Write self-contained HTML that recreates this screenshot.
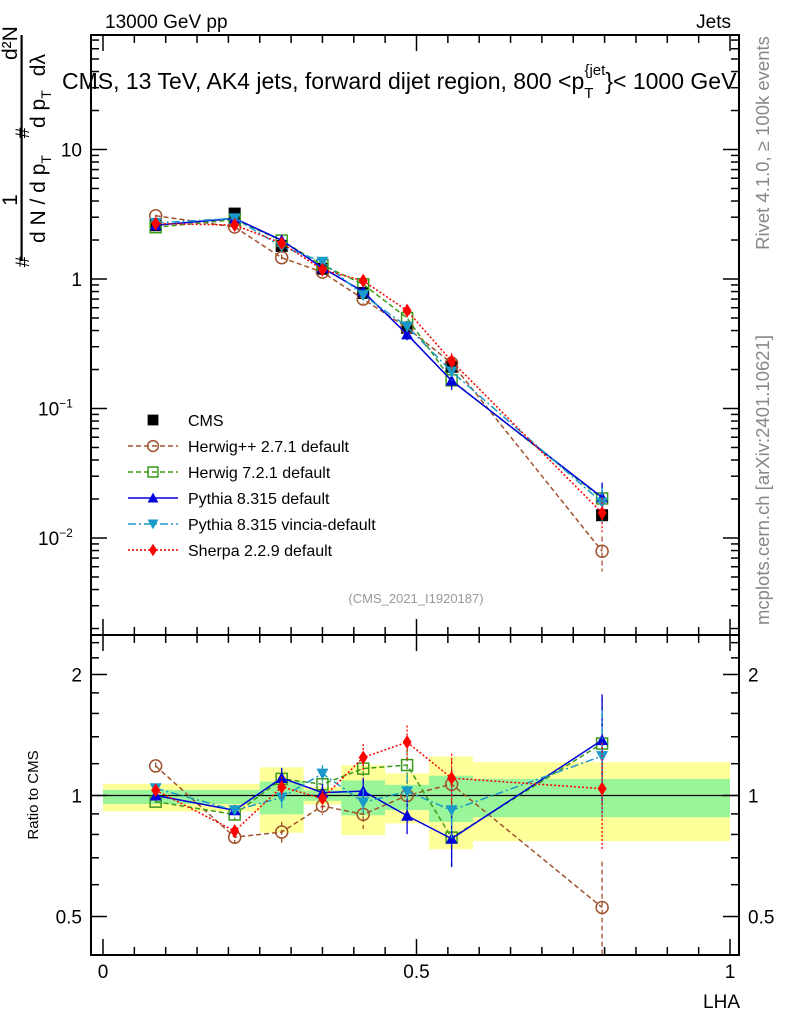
<!DOCTYPE html>
<html><head><meta charset="utf-8"><style>
html,body{margin:0;padding:0;background:#fff}
svg{display:block;font-family:"Liberation Sans",sans-serif}
</style></head><body>
<svg id="c" width="786" height="1024" viewBox="0 0 786 1024" xmlns="http://www.w3.org/2000/svg">
<g id="bands"></g>
<g id="marks"></g>
<g id="axes"></g>
<text x="105" y="28" font-size="19">13000 GeV pp</text>
<text x="731" y="28" font-size="19" text-anchor="end">Jets</text>
<text x="62" y="89" font-size="23">CMS, 13 TeV, AK4 jets, forward dijet region, 800 &lt;p<tspan font-size="15" dy="9">T</tspan><tspan font-size="15" dx="-9" dy="-23">{jet</tspan><tspan dy="14">}&lt; 1000 GeV</tspan></text>
<rect x="20.5" y="35" width="2.2" height="226" fill="#000"/>
<g transform="rotate(-90)" font-size="21">
<text x="-200" y="17" text-anchor="middle">1</text>
<text x="-243" y="45">d N / d p<tspan font-size="14" dy="6">T</tspan></text>
<text x="-262" y="29" text-anchor="middle" font-size="19">#</text>
<text x="-133" y="29" text-anchor="middle" font-size="19">#</text>
<text x="-60" y="17">d²N</text>
<text x="-128" y="45">d p<tspan font-size="14" dy="6">T</tspan><tspan dx="14" dy="-6">dλ</tspan></text>
</g>
<text transform="translate(769,143) rotate(-90)" font-size="18.5" fill="#888" text-anchor="middle">Rivet 4.1.0, ≥ 100k events</text>
<text transform="translate(769,480) rotate(-90)" font-size="18.5" fill="#888" text-anchor="middle">mcplots.cern.ch [arXiv:2401.10621]</text>
<text x="416" y="603" font-size="13" fill="#999" text-anchor="middle">(CMS_2021_I1920187)</text>
<text transform="translate(38,795) rotate(-90)" font-size="15" text-anchor="middle">Ratio to CMS</text>
<text x="740" y="1008" font-size="19" text-anchor="end">LHA</text>
<g id="legend"></g>
</svg>
<script>
const xs=[0.084,0.21,0.285,0.35,0.415,0.485,0.556,0.796];
const cms=[2.6,3.2,1.8,1.2,0.78,0.42,0.21,0.015];
const cmsErr=[0.05,0.06,0.04,0.03,0.03,0.02,0.012,0.0015];
const herwigpp=[3.08,2.52,1.46,1.13,0.70,0.42,0.224,0.0079];
const herwig7=[2.51,2.87,1.98,1.28,0.91,0.50,0.165,0.0202];
const pythia=[2.6,2.94,1.99,1.22,0.80,0.374,0.164,0.0206];
const vincia=[2.71,2.94,1.78,1.36,0.75,0.43,0.193,0.0188];
const sherpa=[2.68,2.61,1.89,1.18,0.97,0.57,0.232,0.0156];
const relErr=[0.02,0.03,0.06,0.05,0.08,0.1,0.15,0.3];
const binEdges=[0,0.25,0.32,0.38,0.45,0.52,0.59,1.0];
const yellowHi=[1.069,1.175,1.05,1.19,1.135,1.25,1.21];
const yellowLo=[0.913,0.808,0.95,0.797,0.852,0.735,0.77];
const greenHi=[1.033,1.083,1.03,1.09,1.063,1.12,1.10];
const greenLo=[0.953,0.898,0.97,0.893,0.92,0.86,0.883];
const mainTicks=[10,1,0.1,0.01];
const ratioTicks=[2,1,0.5];
const xTicks=[0,0.5,1];

const NS="http://www.w3.org/2000/svg";
const X=v=>103+v*627;
const Y=v=>279-Math.log10(v)*129.5;
const R=v=>795.5-Math.log10(v)*402;
function mk(tag,attrs,parent){const e=document.createElementNS(NS,tag);for(const k in attrs)e.setAttribute(k,attrs[k]);parent.appendChild(e);return e;}
const bands=document.getElementById('bands'),marks=document.getElementById('marks'),axes=document.getElementById('axes'),leg=document.getElementById('legend');

for(let i=0;i<yellowHi.length;i++){
  const x0=X(binEdges[i]),x1=X(binEdges[i+1]);
  let r=mk('rect',{x:x0,y:R(yellowHi[i]),width:x1-x0,height:R(yellowLo[i])-R(yellowHi[i]),fill:'#ffff99'},bands);
  
  
  r=mk('rect',{x:x0,y:R(greenHi[i]),width:x1-x0,height:R(greenLo[i])-R(greenHi[i]),fill:'#99f599'},bands);
  
  
}
let l1=mk('line',{x1:91,x2:739,y1:R(1),y2:R(1),stroke:'#000','stroke-width':1.3},bands);



function marker(type,x,y,col,g,s){
  s=s||1;
  if(type==='sq')return mk('rect',{x:x-6*s,y:y-6*s,width:12*s,height:12*s,fill:'#000'},g);
  if(type==='circ')return mk('circle',{cx:x,cy:y,r:6*s,fill:'none',stroke:col,'stroke-width':1.5},g);
  if(type==='osq')return mk('rect',{x:x-5.5*s,y:y-5.5*s,width:11*s,height:11*s,fill:'none',stroke:col,'stroke-width':1.5},g);
  if(type==='up')return mk('polygon',{points:`${x},${y-6*s} ${x-6*s},${y+5*s} ${x+6*s},${y+5*s}`,fill:col},g);
  if(type==='dn')return mk('polygon',{points:`${x},${y+6*s} ${x-6*s},${y-5*s} ${x+6*s},${y-5*s}`,fill:col},g);
  if(type==='dia')return mk('polygon',{points:`${x},${y-7*s} ${x-4.5*s},${y} ${x},${y+7*s} ${x+4.5*s},${y}`,fill:col},g);
}
const series=[
 {name:'herwigpp',label:'Herwig++ 2.7.1 default',vals:herwigpp,col:'#a0522d',dash:'5,3',m:'circ'},
 {name:'herwig7',label:'Herwig 7.2.1 default',vals:herwig7,col:'#3a9a1a',dash:'5,3',m:'osq'},
 {name:'pythia',label:'Pythia 8.315 default',vals:pythia,col:'#0000dd',dash:'',m:'up'},
 {name:'vincia',label:'Pythia 8.315 vincia-default',vals:vincia,col:'#1a9ac8',dash:'8,3,2,3',m:'dn'},
 {name:'sherpa',label:'Sherpa 2.2.9 default',vals:sherpa,col:'#ff0000',dash:'2,2',m:'dia'}
];
{
 const g=mk('g',{},marks);
 
 
 cms.forEach((v,i)=>{
   mk('line',{x1:X(xs[i]),x2:X(xs[i]),y1:Y(v+cmsErr[i]),y2:Y(v-cmsErr[i]),stroke:'#000','stroke-width':1.5},g);
   const p=marker('sq',X(xs[i]),Y(v),'#000',g);
   
   
 });
}
series.forEach(s=>{
  const g=mk('g',{},marks);
  
  
  const ptsM=s.vals.map((v,i)=>X(xs[i])+','+Y(v)).join(' ');
  const ptsR=s.vals.map((v,i)=>X(xs[i])+','+R(v/cms[i])).join(' ');
  mk('polyline',{points:ptsM,fill:'none',stroke:s.col,'stroke-width':1.5,'stroke-dasharray':s.dash},g);
  mk('polyline',{points:ptsR,fill:'none',stroke:s.col,'stroke-width':1.5,'stroke-dasharray':s.dash},g);
  s.vals.forEach((v,i)=>{
    const e=relErr[i];
    mk('line',{x1:X(xs[i]),x2:X(xs[i]),y1:Y(v*(1+e)),y2:Y(v*Math.max(1-e,0.4)),stroke:s.col,'stroke-width':1.3,'stroke-dasharray':s.dash},g);
    const r=v/cms[i];
    mk('line',{x1:X(xs[i]),x2:X(xs[i]),y1:Math.max(R(r*(1+e)),636),y2:Math.min(R(r*Math.max(1-e,0.3)),955),stroke:s.col,'stroke-width':1.3,'stroke-dasharray':s.dash},g);
    let p=marker(s.m,X(xs[i]),Y(v),s.col,g);
    
    
    p=marker(s.m,X(xs[i]),R(r),s.col,g);
    
    
  });
});
{
 const y0=420,dy=26;
 let m=marker('sq',153,y0,'#000',leg,0.9);
 
 
 let t=mk('text',{x:188,y:y0+6,'font-size':16},leg);t.textContent='CMS';
 
 
 series.forEach((s,k)=>{
   const y=y0+dy*(k+1);
   mk('line',{x1:128,x2:178,y1:y,y2:y,stroke:s.col,'stroke-width':1.5,'stroke-dasharray':s.dash},leg);
   marker(s.m,153,y,s.col,leg,0.9);
   const tt=mk('text',{x:188,y:y+6,'font-size':16},leg);tt.textContent=s.label;
   
   
 });
}
mk('rect',{x:91,y:35,width:648,height:600,fill:'none',stroke:'#000','stroke-width':2},axes);
mk('rect',{x:91,y:635,width:648,height:320,fill:'none',stroke:'#000','stroke-width':2},axes);
for(let d=-3;d<=1;d++){for(let k=1;k<10;k++){const v=k*Math.pow(10,d);const y=Y(v);if(y<36||y>634)continue;const L=k===1?16:8;
 mk('line',{x1:91,x2:91+L,y1:y,y2:y,stroke:'#000','stroke-width':1.5},axes);
 mk('line',{x1:739,x2:739-L,y1:y,y2:y,stroke:'#000','stroke-width':1.5},axes);}}
const mainLab={10:'10',1:'1',0.1:'10<tspan font-size="12" dy="-8">−1</tspan>',0.01:'10<tspan font-size="12" dy="-8">−2</tspan>'};
mainTicks.forEach(v=>{const t=mk('text',{x:v>=1?82:68,y:Y(v)+7,'font-size':19,'text-anchor':v>=1?'end':'start'},axes);
 if(v<1)t.setAttribute('x',38);
 t.innerHTML=mainLab[v];
 
 });
for(let k=4;k<=25;k++){const v=k/10;if(v>1&&k%2)continue;const y=R(v);if(y<637||y>953)continue;const big=ratioTicks.includes(v);const L=big?16:8;
 mk('line',{x1:91,x2:91+L,y1:y,y2:y,stroke:'#000','stroke-width':1.5},axes);
 mk('line',{x1:739,x2:739-L,y1:y,y2:y,stroke:'#000','stroke-width':1.5},axes);}
ratioTicks.forEach(v=>{
 let t=mk('text',{x:82,y:R(v)+7,'font-size':19,'text-anchor':'end'},axes);t.textContent=String(v);
 
 
 t=mk('text',{x:748,y:R(v)+7,'font-size':19},axes);t.textContent=String(v);
 
 });
for(let k=0;k<=20;k++){const v=k/20;const x=X(v);const L=k%10===0?16:8;
 mk('line',{x1:x,x2:x,y1:955,y2:955-L,stroke:'#000','stroke-width':1.5},axes);
 mk('line',{x1:x,x2:x,y1:635,y2:635-L,stroke:'#000','stroke-width':1.5},axes);
 mk('line',{x1:x,x2:x,y1:635,y2:635+L,stroke:'#000','stroke-width':1.5},axes);
 mk('line',{x1:x,x2:x,y1:35,y2:35+L,stroke:'#000','stroke-width':1.5},axes);}
xTicks.forEach(v=>{const t=mk('text',{x:X(v),y:978,'font-size':19,'text-anchor':'middle'},axes);t.textContent=String(v);
 
 });
</script>
</body></html>
